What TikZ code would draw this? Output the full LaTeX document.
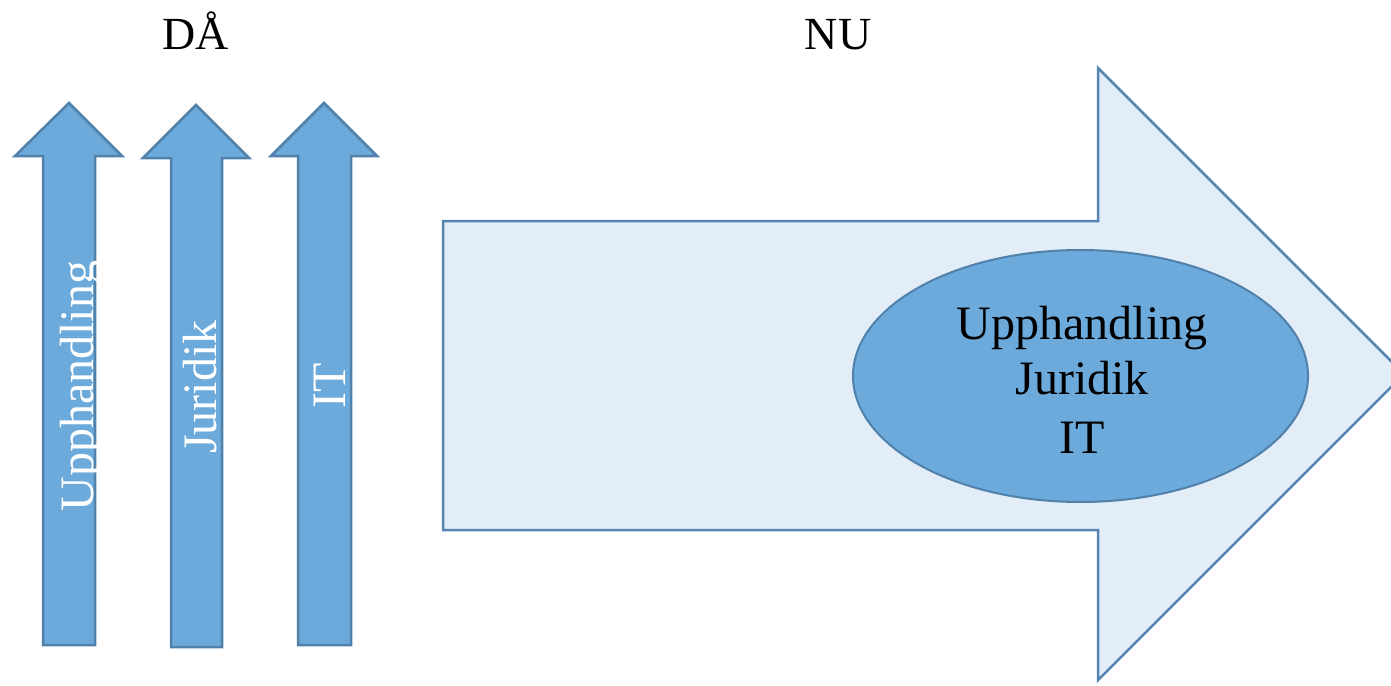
\documentclass[tikz,border=0pt]{standalone}
\usepackage{fontspec}
\setmainfont{Liberation Serif}
\usetikzlibrary{shapes.geometric}
\definecolor{shaftfill}{HTML}{6CAADB}
\definecolor{shaftline}{HTML}{4F81AA}
\definecolor{bigfill}{HTML}{E3EDF8}
\definecolor{bigline}{HTML}{5585B0}
\tikzset{
  uparrow/.style={fill=shaftfill, draw=shaftline, line width=2.5pt, line join=miter},
  bigarrow/.style={fill=bigfill, draw=bigline, line width=2.5pt, line join=miter},
  vlabel/.style={rotate=90, anchor=base, inner sep=0pt, text=white, font=\fontsize{48}{57}\selectfont},
  title/.style={anchor=base, inner sep=0pt, font=\fontsize{46}{55}\selectfont},
  blob/.style={ellipse, fill=shaftfill, draw=shaftline, line width=2pt, minimum width=455pt, minimum height=252pt, inner sep=0pt, align=center, font=\fontsize{48}{57}\selectfont}
}
\begin{document}
\begin{tikzpicture}[x=1pt,y=-1pt]
\useasboundingbox (0,0) rectangle (1391,685);
\clip (0,0) rectangle (1391,685);
% titles
\node[title] (da) at (196,49) {DÅ};
\node[title] (nu) at (838,49) {NU};
% up arrows
\draw[uparrow] (43,645) -- (43,156) -- (15,156) -- (69,103) -- (122,156) -- (95,156) -- (95,645) -- cycle;
\draw[uparrow] (171,647) -- (171,158) -- (143,158) -- (196,105) -- (249,158) -- (222,158) -- (222,647) -- cycle;
\draw[uparrow] (298,645) -- (298,156) -- (271,156) -- (324,103) -- (377,156) -- (351,156) -- (351,645) -- cycle;
\node[vlabel] (t1) at (93,386) {Upphandling};
\node[vlabel] (t2) at (216,387) {Juridik};
\node[vlabel] (t3) at (345,386) {IT};
% big arrow
\draw[bigarrow] (443,221) -- (1098,221) -- (1098,68) -- (1404,374) -- (1098,680) -- (1098,530) -- (443,530) -- cycle;
% ellipse
\node[blob] (e) at (1080.5,376) {};
\node[anchor=base, inner sep=0pt, font=\fontsize{48}{57}\selectfont] (l1) at (1082,339) {Upphandling};
\node[anchor=base, inner sep=0pt, font=\fontsize{48}{57}\selectfont] (l2) at (1082,394) {Juridik};
\node[anchor=base, inner sep=0pt, font=\fontsize{48}{57}\selectfont] (l3) at (1082,453) {IT};
\end{tikzpicture}
\end{document}
